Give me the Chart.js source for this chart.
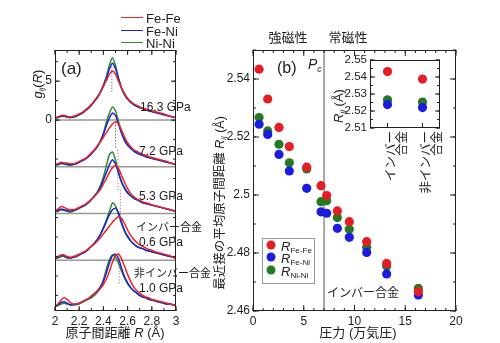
<!DOCTYPE html>
<html>
<head>
<meta charset="utf-8">
<script src="https://cdn.jsdelivr.net/npm/chart.js@4.4.1/dist/chart.umd.min.js"></script>
<style>
  html, body { margin: 0; padding: 0; background: #fff; }
  body { width: 500px; height: 343px; position: relative; overflow: hidden;
         font-family: "Liberation Sans", "Noto Sans CJK JP", sans-serif; color: #222; }
  canvas { position: absolute; }
  .t { position: absolute; transform: translate(-50%, -50%); white-space: nowrap; line-height: 1; }
  .r { position: absolute; transform: translate(-50%, -50%) rotate(-90deg); white-space: nowrap; line-height: 1; }
  .l { position: absolute; transform: translate(0, -50%); white-space: nowrap; line-height: 1; }
  sub { font-size: 0.62em; vertical-align: -0.3em; line-height: 0; }
  .sw { position: absolute; height: 0; border-top: 1.6px solid; width: 22px; }
  .dot { position: absolute; width: 9px; height: 9px; border-radius: 50%; transform: translate(-50%, -50%); }
</style>
</head>
<body>
<canvas id="chartA" width="200" height="343" style="left:0;top:0"></canvas>
<canvas id="chartB" width="300" height="343" style="left:200px;top:0"></canvas>
<canvas id="chartIn" width="130" height="190" style="left:320px;top:40px"></canvas>

<!-- panel (a) texts -->
<div class="sw" style="left:121px;top:17px;border-color:#e8232b"></div>
<div class="sw" style="left:121px;top:30px;border-color:#2020c8"></div>
<div class="sw" style="left:121px;top:42px;border-color:#2e8b2e"></div>
<div class="l" style="left:146px;top:18px;font-size:13px">Fe-Fe</div>
<div class="l" style="left:146px;top:31px;font-size:13px">Fe-Ni</div>
<div class="l" style="left:146px;top:43px;font-size:13px">Ni-Ni</div>
<div class="l" style="left:61px;top:68px;font-size:17px">(a)</div>
<div class="r" style="left:37px;top:84px;font-size:13px"><i>g</i><sub><i>ij</i></sub>(<i>R</i>)</div>
<div class="l" style="left:140px;top:107px;font-size:12px">16.3 GPa</div>
<div class="l" style="left:139px;top:151px;font-size:12px">7.2 GPa</div>
<div class="l" style="left:139px;top:196px;font-size:12px">5.3 GPa</div>
<div class="l" style="left:136px;top:227px;font-size:11px">インバー合金</div>
<div class="l" style="left:139px;top:242px;font-size:12px">0.6 GPa</div>
<div class="l" style="left:134px;top:273px;font-size:11px">非インバー合金</div>
<div class="l" style="left:139px;top:288px;font-size:12px">1.0 GPa</div>
<div class="t" style="left:115px;top:332px;font-size:13px">原子間距離 <i>R</i> (Å)</div>

<!-- panel (b) texts -->
<div class="t" style="left:288px;top:37px;font-size:13px">強磁性</div>
<div class="t" style="left:348px;top:37px;font-size:13px">常磁性</div>
<div class="l" style="left:277px;top:68px;font-size:16px">(b)</div>
<div class="l" style="left:308px;top:64px;font-size:14px"><i>P</i><sub><i>c</i></sub></div>
<div class="r" style="left:220px;top:203px;font-size:12.5px">最近接の平均原子間距離 <i>R</i><sub><i>ij</i></sub> (Å)</div>
<div class="t" style="left:358px;top:332px;font-size:13px">圧力 (万気圧)</div>
<div class="t" style="left:363px;top:293px;font-size:12px">インバー合金</div>
<div class="r" style="left:338px;top:106px;font-size:13px"><i>R</i><sub><i>ij</i></sub> (Å)</div>
<div style="position:absolute;left:262px;top:238px;width:51px;height:44px;border:1px solid #999;background:#fff"></div>
<div class="dot" style="left:271px;top:245px;background:#e51e25"></div>
<div class="dot" style="left:271px;top:257px;background:#1c1ce0"></div>
<div class="dot" style="left:271px;top:270px;background:#237a23"></div>
<div class="l" style="left:281px;top:246px;font-size:13px"><i>R</i><sub>Fe-Fe</sub></div>
<div class="l" style="left:281px;top:258px;font-size:13px"><i>R</i><sub>Fe-Ni</sub></div>
<div class="l" style="left:281px;top:271px;font-size:13px"><i>R</i><sub>Ni-Ni</sub></div>

<script>
// ---------- panel (a): partial pair distribution functions ----------
const rGrid = [2.000, 2.025, 2.050, 2.075, 2.100, 2.125, 2.150, 2.175, 2.200, 2.225,
               2.250, 2.275, 2.300, 2.325, 2.350, 2.375, 2.400, 2.425, 2.450, 2.475,
               2.500, 2.525, 2.550, 2.575, 2.600, 2.625, 2.650, 2.675, 2.700, 2.725,
               2.750, 2.775, 2.800, 2.825, 2.850, 2.875, 2.900, 2.925, 2.950, 2.975, 3.000];

const panelNames = ['16.3 GPa', '7.2 GPa', '5.3 GPa', '0.6 GPa (Invar)', '1.0 GPa (non-Invar)'];
const panelOffsets = [0, -6, -12, -18, -24];

const gFeFe = [
  [0.3,0.4,0.6,0.6,0.5,0.4,0.5,0.6,0.8,1.0,1.3,1.6,2.0,2.5,3.0,3.6,4.3,5.1,5.9,6.3,5.9,5.0,4.1,3.4,2.8,2.4,2.1,1.9,1.7,1.5,1.4,1.3,1.2,1.1,1.0,0.9,0.8,0.6,0.5,0.4,0.3],
  [0.3,0.4,0.6,0.5,0.5,0.4,0.4,0.5,0.7,0.9,1.1,1.4,1.8,2.2,2.7,3.2,3.8,4.4,5.0,5.5,5.8,5.5,4.7,3.8,3.1,2.6,2.2,2.0,1.8,1.6,1.5,1.3,1.2,1.1,1.0,0.9,0.8,0.7,0.5,0.4,0.3],
  [0.4,0.6,0.9,0.8,0.6,0.5,0.5,0.6,0.8,1.0,1.2,1.5,1.8,2.2,2.6,3.1,3.8,4.5,5.3,5.9,6.2,5.8,4.9,4.0,3.2,2.6,2.2,1.9,1.7,1.5,1.4,1.3,1.1,1.0,0.9,0.8,0.7,0.6,0.5,0.4,0.3],
  [0.3,0.5,0.7,0.7,0.5,0.4,0.5,0.6,0.8,1.0,1.2,1.5,1.8,2.1,2.5,2.9,3.4,3.9,4.4,4.9,5.3,5.6,5.4,4.7,3.9,3.2,2.7,2.3,2.0,1.8,1.6,1.4,1.3,1.1,1.0,0.9,0.8,0.7,0.6,0.4,0.3],
  [0.2,0.4,0.9,1.2,1.0,0.6,0.4,0.4,0.5,0.7,0.9,1.1,1.4,1.7,2.0,2.4,2.9,3.6,4.6,5.8,6.6,6.8,6.2,5.2,4.2,3.3,2.6,2.1,1.8,1.5,1.3,1.2,1.0,0.9,0.8,0.7,0.6,0.5,0.4,0.3,0.3]
];
const gFeNi = [
  [0.3,0.4,0.5,0.5,0.4,0.4,0.4,0.5,0.7,0.9,1.2,1.5,1.9,2.4,2.9,3.6,4.4,5.4,6.6,7.3,6.6,5.3,4.1,3.3,2.7,2.3,2.0,1.8,1.6,1.5,1.3,1.2,1.1,1.0,0.9,0.8,0.7,0.6,0.5,0.4,0.3],
  [0.2,0.3,0.5,0.4,0.3,0.3,0.3,0.4,0.6,0.8,1.0,1.3,1.7,2.1,2.6,3.3,4.2,5.3,6.3,6.9,6.6,5.5,4.3,3.4,2.8,2.4,2.1,1.8,1.6,1.5,1.3,1.2,1.1,1.0,0.9,0.8,0.7,0.6,0.5,0.4,0.3],
  [0.3,0.4,0.6,0.5,0.4,0.3,0.4,0.5,0.7,0.9,1.1,1.4,1.8,2.2,2.7,3.4,4.3,5.3,6.3,6.9,6.4,5.2,4.1,3.3,2.7,2.3,2.0,1.8,1.6,1.4,1.3,1.2,1.1,1.0,0.9,0.8,0.7,0.6,0.5,0.4,0.3],
  [0.2,0.4,0.6,0.6,0.4,0.3,0.4,0.5,0.7,0.9,1.1,1.4,1.8,2.2,2.7,3.3,4.1,5.0,5.9,6.5,6.7,6.1,4.9,3.8,3.1,2.5,2.1,1.8,1.6,1.5,1.3,1.2,1.1,1.0,0.9,0.8,0.7,0.6,0.5,0.4,0.3],
  [0.1,0.3,0.6,0.7,0.5,0.3,0.3,0.4,0.5,0.7,0.9,1.1,1.4,1.7,2.1,2.6,3.3,4.4,5.7,6.6,6.8,6.2,5.0,3.9,3.1,2.5,2.1,1.8,1.5,1.3,1.2,1.0,0.9,0.8,0.7,0.6,0.5,0.4,0.4,0.3,0.2]
];
const gNiNi = [
  [0.2,0.3,0.5,0.5,0.4,0.3,0.4,0.5,0.7,0.9,1.2,1.5,1.9,2.4,2.9,3.6,4.5,5.6,7.1,8.0,7.0,5.4,4.1,3.2,2.7,2.3,2.0,1.8,1.6,1.5,1.4,1.2,1.1,1.0,0.9,0.8,0.7,0.6,0.5,0.4,0.3],
  [0.2,0.3,0.4,0.4,0.3,0.2,0.3,0.4,0.6,0.8,1.0,1.3,1.7,2.1,2.6,3.3,4.3,5.8,6.9,7.7,7.2,5.8,4.4,3.4,2.8,2.4,2.0,1.8,1.6,1.5,1.3,1.2,1.1,1.0,0.9,0.8,0.7,0.6,0.5,0.4,0.3],
  [0.2,0.3,0.5,0.4,0.3,0.2,0.3,0.5,0.7,0.9,1.1,1.4,1.8,2.3,2.8,3.6,4.7,6.2,7.6,7.9,6.9,5.3,4.0,3.2,2.6,2.3,2.0,1.8,1.6,1.4,1.3,1.2,1.1,1.0,0.9,0.8,0.7,0.6,0.5,0.4,0.3],
  [0.2,0.3,0.5,0.5,0.3,0.3,0.4,0.5,0.7,0.9,1.1,1.4,1.8,2.2,2.7,3.3,4.2,5.2,6.3,7.4,7.0,5.9,4.7,3.7,3.0,2.5,2.1,1.8,1.6,1.5,1.3,1.2,1.1,1.0,0.9,0.8,0.7,0.6,0.5,0.4,0.3],
  [0.1,0.2,0.4,0.5,0.4,0.3,0.3,0.3,0.4,0.6,0.8,1.0,1.2,1.5,1.9,2.5,3.5,4.9,6.1,6.7,6.4,5.6,4.6,3.7,3.0,2.5,2.1,1.8,1.5,1.3,1.2,1.0,0.9,0.8,0.7,0.6,0.5,0.4,0.4,0.3,0.2]
];

// dotted guide lines: R position and (stacked) y range
const guideR = [2.47, 2.50, 2.52, 2.54, 2.53];
const guideYFrom = [3.6, -3.5, -9.0, -12.6, -21.0];
const guideYTo = [7.1, 0.0, -3.8, -8.7, -17.0];

const aTicksX = [2, 2.2, 2.4, 2.6, 2.8, 3];
const aTicksY = [0, 5];

// ---------- panel (b): nearest neighbour distances vs pressure ----------
const pressure = [0.6, 1.45, 2.56, 3.58, 5.29, 6.70, 7.26, 8.31, 9.49, 11.2, 13.17, 16.29];
const rFeFe = [2.5434, 2.5331, 2.5233, 2.5167, 2.5096, 2.5032, 2.4998, 2.4945, 2.4908, 2.4839, 2.4764, 2.4667];
const rFeNi = [2.5244, 2.5209, 2.5140, 2.5083, 2.5023, 2.4942, 2.4937, 2.4885, 2.4854, 2.4802, 2.4728, 2.4655];
const rNiNi = [2.5267, 2.5221, 2.5175, 2.5111, 2.5090, 2.4977, 2.4980, 2.4922, 2.4882, 2.4820, 2.4755, 2.4678];
const pCritical = 7.0;
const bTicksX = [0, 5, 10, 15, 20];
const bTicksY = [2.46, 2.48, 2.5, 2.52, 2.54];

// ---------- inset: Invar vs non-Invar ----------
const alloyLabels = [['インバー', '合金'], ['非インバー', '合金']];
const insetFeFe = [2.5432, 2.5388];
const insetFeNi = [2.5238, 2.5220];
const insetNiNi = [2.5266, 2.5253];
const insetTicksY = [2.51, 2.52, 2.53, 2.54, 2.55];

const RED = '#e51e25', BLUE = '#1c1ce0', GREEN = '#237a23';

Chart.defaults.font.family = '"Liberation Sans", "Noto Sans CJK JP", sans-serif';
Chart.defaults.color = '#222';
Chart.defaults.animation = false;

// inward tick marks on all four sides plus frame
const frameTicks = {
  id: 'frameTicks',
  afterDatasetsDraw(chart, args, opts) {
    const ctx = chart.ctx;
    const a = chart.chartArea;
    ctx.save();
    ctx.strokeStyle = '#222';
    ctx.lineWidth = 1;
    ctx.strokeRect(a.left + 0.5, a.top + 0.5, a.right - a.left - 1, a.bottom - a.top - 1);
    const xs = chart.scales.x, ys = chart.scales.y;
    const tick = (x1, y1, x2, y2) => { ctx.beginPath(); ctx.moveTo(x1, y1); ctx.lineTo(x2, y2); ctx.stroke(); };
    const xMajor = xs.ticks.map((t, i) => xs.getPixelForTick(i));
    const yMajor = ys.ticks.map((t, i) => ys.getPixelForTick(i));
    const xMinor = [], yMinor = [];
    if (opts.minorX) for (let v = xs.min; v <= xs.max + 1e-9; v += opts.minorX) xMinor.push(xs.getPixelForValue(v));
    if (opts.minorY) for (let v = Math.ceil(ys.min / opts.minorY) * opts.minorY; v <= ys.max + 1e-9; v += opts.minorY) yMinor.push(ys.getPixelForValue(v));
    const L = opts.len || 5, S = opts.minorLen || 3;
    xMinor.forEach(p => { tick(p, a.bottom, p, a.bottom - S); tick(p, a.top, p, a.top + S); });
    xMajor.forEach(p => { tick(p, a.bottom, p, a.bottom - L); if (opts.topTicks !== false) tick(p, a.top, p, a.top + L); });
    yMinor.forEach(p => { tick(a.left, p, a.left + S, p); tick(a.right, p, a.right - S, p); });
    yMajor.forEach(p => { tick(a.left, p, a.left + L, p); tick(a.right, p, a.right - L, p); });
    ctx.restore();
  }
};

const fixTicks = (vals) => (scale) => { scale.ticks = vals.map(v => ({ value: v })); };
const fmt = (v) => String(+(+v).toFixed(2));

function axisBase(size) {
  return {
    grid: { display: false, drawTicks: false },
    border: { display: false },
    ticks: { font: { size: size }, color: '#222', padding: 3, callback: fmt }
  };
}

// ----- chart (a) -----
const aDatasets = [];
const curveSets = [[gFeFe, '#e8232b'], [gFeNi, '#2020c8'], [gNiNi, '#2e8b2e']];
curveSets.forEach(([series, color]) => {
  series.forEach((vals, p) => {
    aDatasets.push({
      label: panelNames[p],
      data: vals.map((v, i) => ({ x: rGrid[i], y: v + panelOffsets[p] })),
      borderColor: color, borderWidth: 1.5, pointRadius: 0, tension: 0.2, fill: false
    });
  });
});
panelOffsets.slice(0, 4).forEach(off => {
  aDatasets.push({
    data: [{ x: 2, y: off }, { x: 3, y: off }],
    borderColor: '#999', borderWidth: 1.5, pointRadius: 0
  });
});
guideR.forEach((r, i) => {
  aDatasets.push({
    data: [{ x: r, y: guideYFrom[i] }, { x: r, y: guideYTo[i] }],
    borderColor: i < 2 ? '#777' : '#c08090', borderWidth: 1, borderDash: [1.5, 1.5], pointRadius: 0
  });
});

const axA = axisBase(12);
new Chart(document.getElementById('chartA'), {
  type: 'line',
  data: { datasets: aDatasets },
  options: {
    responsive: false, devicePixelRatio: 1,
    layout: { padding: { left: 35, right: 24, top: 50, bottom: 13 } },
    plugins: { legend: { display: false }, tooltip: { enabled: false },
               frameTicks: { minorX: 0.1, minorY: 2.5, len: 5, minorLen: 3 } },
    scales: {
      x: { ...axA, type: 'linear', min: 2, max: 3, afterBuildTicks: fixTicks(aTicksX),
           afterFit: s => { s.height = 19; } },
      y: { ...axA, type: 'linear', min: -24.5, max: 9, afterBuildTicks: fixTicks(aTicksY),
           afterFit: s => { s.width = 20; } }
    }
  },
  plugins: [frameTicks]
});

// ----- chart (b) -----
const axB = axisBase(12);
const pts = (ys) => pressure.map((p, i) => ({ x: p, y: ys[i] }));
new Chart(document.getElementById('chartB'), {
  type: 'scatter',
  data: {
    datasets: [
      { label: 'R Fe-Fe', data: pts(rFeFe), backgroundColor: RED, pointRadius: 4.6, borderWidth: 0 },
      { label: 'R Fe-Ni', data: pts(rFeNi), backgroundColor: BLUE, pointRadius: 4.6, borderWidth: 0 },
      { label: 'R Ni-Ni', data: pts(rNiNi), backgroundColor: GREEN, pointRadius: 4.6, borderWidth: 0 },
      { type: 'line', data: [{ x: pCritical, y: 2.46 }, { x: pCritical, y: 2.55 }],
        borderColor: '#555', borderWidth: 1, pointRadius: 0 }
    ]
  },
  options: {
    responsive: false, devicePixelRatio: 1,
    layout: { padding: { left: 23, right: 44, top: 50, bottom: 12 } },
    plugins: { legend: { display: false }, tooltip: { enabled: false },
               frameTicks: { minorX: 1, minorY: 0.01, len: 6, minorLen: 3 } },
    scales: {
      x: { ...axB, type: 'linear', min: 0, max: 20, afterBuildTicks: fixTicks(bTicksX),
           afterFit: s => { s.height = 20; } },
      y: { ...axB, type: 'linear', min: 2.46, max: 2.55, afterBuildTicks: fixTicks(bTicksY),
           afterFit: s => { s.width = 30; } }
    }
  },
  plugins: [frameTicks]
});

// ----- inset -----
const axI = axisBase(11.5);
new Chart(document.getElementById('chartIn'), {
  type: 'scatter',
  data: {
    labels: alloyLabels,
    datasets: [
      { data: insetFeFe, backgroundColor: RED, pointRadius: 4.6, borderWidth: 0 },
      { data: insetFeNi, backgroundColor: BLUE, pointRadius: 4.6, borderWidth: 0 },
      { data: insetNiNi, backgroundColor: GREEN, pointRadius: 4.6, borderWidth: 0 }
    ]
  },
  options: {
    responsive: false, devicePixelRatio: 1,
    layout: { padding: { left: 20, right: 10, top: 20, bottom: 22 } },
    plugins: { legend: { display: false }, tooltip: { enabled: false },
               frameTicks: { minorY: 0.005, len: 5, minorLen: 3, topTicks: false } },
    scales: {
      x: { grid: { display: false, drawTicks: false }, border: { display: false },
           type: 'category', offset: true,
           ticks: { font: { size: 12.5, lineHeight: 0.85 }, color: '#222', padding: 3, labelOffset: 4,
                    minRotation: 90, maxRotation: 90, autoSkip: false },
           afterFit: s => { s.height = 80; } },
      y: { ...axI, type: 'linear', min: 2.51, max: 2.55, afterBuildTicks: fixTicks(insetTicksY),
           afterFit: s => { s.width = 30; } }
    }
  },
  plugins: [frameTicks]
});
</script>
</body>
</html>
